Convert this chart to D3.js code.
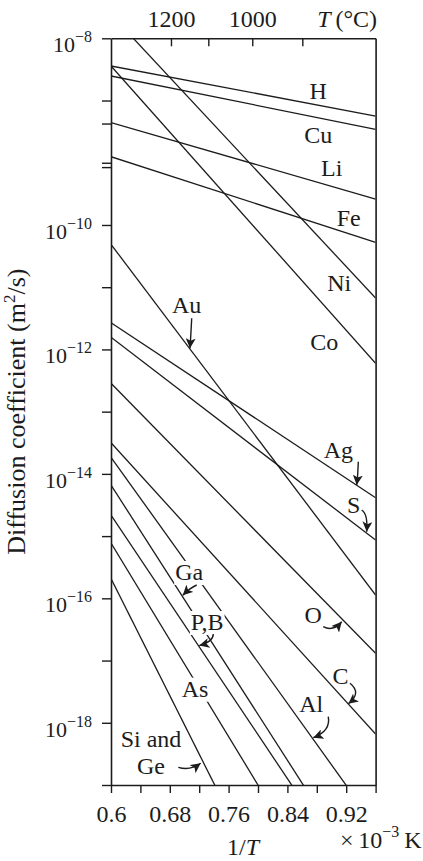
<!DOCTYPE html>
<html><head><meta charset="utf-8">
<script src="https://cdn.jsdelivr.net/npm/d3@7"></script>
<style>
html,body{margin:0;padding:0;background:#fff;overflow:hidden;}
svg{display:block;font-family:"Liberation Serif","Times New Roman",serif;}
</style></head><body>
<svg id="chart" width="423" height="861"></svg>
<script>
// ---------------- data ----------------
const elements = ["H","Cu","Li","Fe","Ni","Co","Au","Ag","S","O","C","Al","Ga","P,B","As","Si and Ge"];
// 1/T (x10^-3 K^-1) at which each Arrhenius line is given
const invTEnds = [0.60, 0.96];
// log10 D (m^2/s) at 1/T = 0.60 and 0.96 (lines continue beyond the frame and are clipped)
const logDAt060 = [-7.445, -7.606, -8.356, -8.903, -6.616, -7.445, -10.311, -11.571, -11.805, -12.544, -13.499, -13.734, -14.179, -14.661, -15.111, -15.681];
const logDAt096 = [-8.249, -8.462, -9.583, -10.278, -11.174, -12.223, -15.947, -14.383, -15.063, -16.884, -18.180, -19.664, -20.813, -21.015, -22.111, -24.149];

// bottom axis 1/T
const xTickValues = [0.60, 0.64, 0.68, 0.72, 0.76, 0.80, 0.84, 0.88, 0.92, 0.96];
const xTickLabels = ["0.6", "", "0.68", "", "0.76", "", "0.84", "", "0.92", ""];
// top axis T(°C), positions in 1/T
const tempTickInvT = [0.6816, 0.7324, 0.7922, 0.8603];
const tempTickLabels = ["1200", "", "1000", ""];
// left axis (log10 D)
const yTickExps = [-19, -18, -17, -16, -15, -14, -13, -12, -11, -10, -9, -9.07, -8.37, -8, -7];
const yLabelExps = [-7, -10, -12, -14, -16, -18];
const yLabelTexts = ["−8", "−10", "−12", "−14", "−16", "−18"];

// element labels: centre 1/T and baseline log10 D
const labelInvT = [0.8820, 0.8819, 0.9003, 0.9234, 0.9105, 0.8901, 0.7030, 0.9093, 0.9303, 0.8752, 0.9122, 0.8725, 0.7064, 0.7309, 0.7143, 0.6544];
const labelLogD = [-7.980, -8.687, -9.213, -10.016, -11.056, -12.009, -11.419, -13.750, -14.634, -16.401, -17.377, -17.822, -15.706, -16.509, -17.581, -18.385];

// pointer arrows: tail, control, tip as [1/T, log10 D]
const arrowFor = ["Au", "Ag", "S", "Ga", "P,B", "O", "C", "Al", "Si and Ge"];
const arrowTail = [[0.7098,-11.500],[0.9365,-13.804],[0.9411,-14.581],[0.7166,-15.786],[0.7392,-16.573],[0.8888,-16.456],[0.9252,-17.366],[0.8956,-17.902],[0.6916,-18.716]];
const arrowCtrl = [[0.7088,-11.740],[0.9360,-14.000],[0.9497,-14.645],[0.7080,-15.830],[0.7389,-16.700],[0.9020,-16.541],[0.9415,-17.522],[0.8993,-18.132],[0.7075,-18.775]];
const arrowTip  = [[0.7075,-11.982],[0.9343,-14.179],[0.9479,-14.929],[0.6976,-15.950],[0.7201,-16.760],[0.9139,-16.376],[0.9229,-17.695],[0.8752,-18.240],[0.7220,-18.651]];

// ---------------- drawing ----------------
const ink = "#1c1c1c";
const svg = d3.select("#chart");
const L = 111, R = 375.6, T = 38.3, B = 785;
const x = d3.scaleLinear().domain([0.60, 0.96]).range([L, R]);
const y = d3.scaleLog().domain([1e-19, 1e-7]).range([B, T]);
const Y = e => y(Math.pow(10, e));

svg.append("rect").attr("width", 423).attr("height", 861).attr("fill", "#fff");

const defs = svg.append("defs");
defs.append("clipPath").attr("id", "plotclip").append("rect")
  .attr("x", L).attr("y", T).attr("width", R - L).attr("height", B - T);
defs.append("marker").attr("id", "head").attr("markerUnits", "userSpaceOnUse")
  .attr("markerWidth", 11).attr("markerHeight", 10).attr("refX", 10).attr("refY", 5)
  .attr("orient", "auto")
  .append("path").attr("d", "M0,0 L10,5 L0,10 L2.5,5 Z").attr("fill", ink);

// data lines
const line = d3.line().x(d => x(d[0])).y(d => Y(d[1]));
svg.append("g").attr("clip-path", "url(#plotclip)")
  .selectAll("path").data(elements).join("path")
  .attr("d", (d, i) => line([[invTEnds[0], logDAt060[i]], [invTEnds[1], logDAt096[i]]]))
  .attr("fill", "none").attr("stroke", ink).attr("stroke-width", 1.3);

// axes
function styleAxis(g) {
  g.attr("font-family", null).attr("font-size", null);
  g.selectAll("path.domain").attr("stroke", ink).attr("stroke-width", 1.6);
  g.selectAll(".tick line").attr("stroke", ink).attr("stroke-width", 1.4);
  g.selectAll(".tick text").attr("fill", ink).attr("font-size", 24);
}
svg.append("g").attr("transform", `translate(0,${B})`)
  .call(d3.axisBottom(x).tickValues(xTickValues).tickSizeInner(8).tickSizeOuter(0).tickPadding(12)
    .tickFormat((d, i) => xTickLabels[i]))
  .call(styleAxis);
svg.append("g").attr("transform", `translate(0,${T})`)
  .call(d3.axisTop(x).tickValues(tempTickInvT).tickSizeInner(-8).tickSizeOuter(0).tickPadding(11.3)
    .tickFormat((d, i) => tempTickLabels[i]))
  .call(styleAxis);
svg.append("g").attr("transform", `translate(${L},0)`)
  .call(d3.axisLeft(y).tickValues(yTickExps.map(e => Math.pow(10, e))).tickSizeInner(9).tickSizeOuter(0)
    .tickFormat(""))
  .call(styleAxis);
svg.append("g").attr("transform", `translate(${R},0)`)
  .call(d3.axisRight(y).tickValues([]).tickSizeOuter(0))
  .call(styleAxis);

// y tick labels with superscripts
const yl = svg.append("g").attr("fill", ink);
yLabelExps.forEach((e, i) => {
  const t = yl.append("text").attr("x", 92).attr("y", Y(e) + 14).attr("text-anchor", "end").attr("font-size", 22);
  t.append("tspan").text("10");
  t.append("tspan").attr("dy", -10).attr("font-size", 16).text(yLabelTexts[i]);
});

// axis titles
const yt = svg.append("text").attr("transform", `translate(25,${(T + B) / 2})rotate(-90)`)
  .attr("text-anchor", "middle").attr("font-size", 26).attr("fill", ink);
yt.append("tspan").text("Diffusion coefficient (m");
yt.append("tspan").attr("dy", -10).attr("font-size", 17).text("2");
yt.append("tspan").attr("dy", 10).text("/s)");

const tt = svg.append("text").attr("x", 377).attr("y", 27).attr("text-anchor", "end").attr("font-size", 24).attr("fill", ink);
tt.append("tspan").attr("font-style", "italic").text("T");
tt.append("tspan").text("\u2009(°C)");

const bt = svg.append("text").attr("x", 243).attr("y", 855).attr("text-anchor", "middle").attr("font-size", 24).attr("fill", ink);
bt.append("tspan").text("1/");
bt.append("tspan").attr("font-style", "italic").text("T");

const ut = svg.append("text").attr("x", 340).attr("y", 848).attr("font-size", 24).attr("fill", ink);
ut.append("tspan").text("×\u200910");
ut.append("tspan").attr("dy", -11).attr("font-size", 16).text("−3");
ut.append("tspan").attr("dy", 11).text("\u2009K");

// element labels
const knockout = new Set(["Ga", "P,B", "As"]);
const lg = svg.append("g");
elements.forEach((name, i) => {
  const cx = x(labelInvT[i]), by = Y(labelLogD[i]);
  const g = lg.append("g");
  const t = g.append("text").attr("x", cx).attr("y", by).attr("text-anchor", "middle")
    .attr("font-size", 24).attr("fill", ink);
  const parts = name === "Si and Ge" ? ["Si and", "Ge"] : [name];
  parts.forEach((p, k) => t.append("tspan").attr("x", cx).attr("dy", k === 0 ? 0 : 27.3).text(p));
  if (knockout.has(name)) {
    const bb = t.node().getBBox();
    g.insert("rect", "text").attr("x", bb.x - 1).attr("y", bb.y + 2).attr("width", bb.width + 2)
      .attr("height", bb.height - 2).attr("fill", "#fff");
  }
});

// arrows
const ag = svg.append("g");
arrowFor.forEach((name, i) => {
  const p = d3.path();
  p.moveTo(x(arrowTail[i][0]), Y(arrowTail[i][1]));
  p.quadraticCurveTo(x(arrowCtrl[i][0]), Y(arrowCtrl[i][1]), x(arrowTip[i][0]), Y(arrowTip[i][1]));
  ag.append("path").attr("d", p.toString()).attr("fill", "none").attr("stroke", ink)
    .attr("stroke-width", 1.4).attr("marker-end", "url(#head)");
});
</script>
</body></html>
